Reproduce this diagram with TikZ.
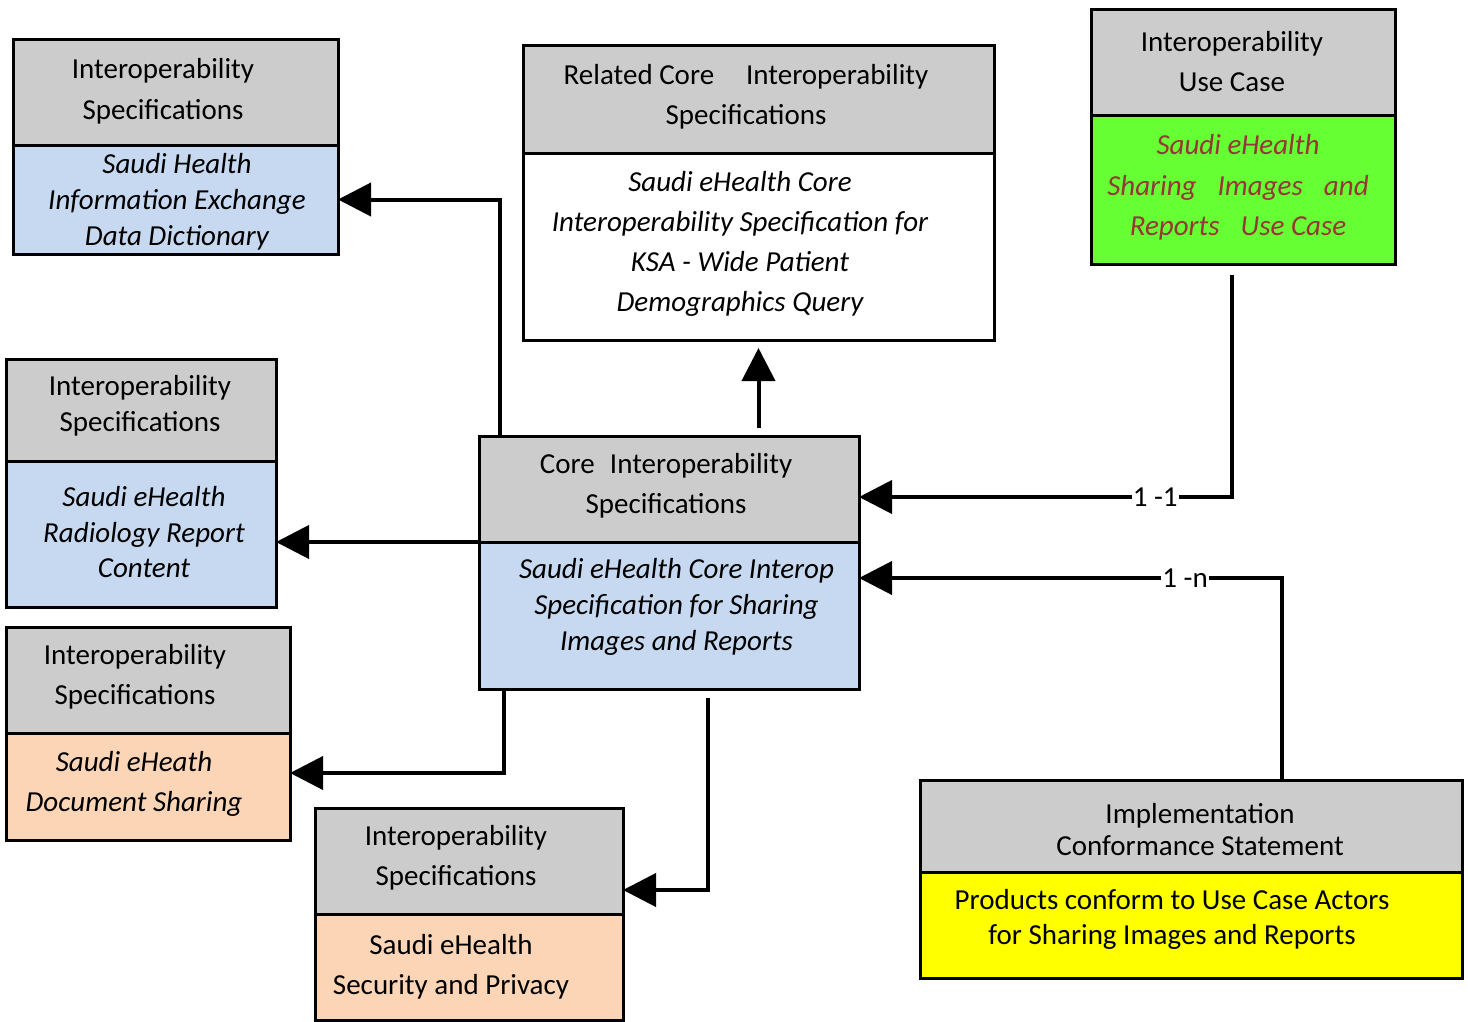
\documentclass[tikz,border=0pt]{standalone}
\usepackage{fontspec}
\setmainfont{Carlito}
\usetikzlibrary{calc,arrows.meta}
\definecolor{hdgray}{HTML}{CCCCCC}
\definecolor{bodyblue}{HTML}{C6D9F1}
\definecolor{peach}{HTML}{FBD5B5}
\definecolor{brightgreen}{HTML}{66FF33}
\definecolor{ylw}{HTML}{FFFF00}
\definecolor{darkred}{HTML}{953735}
\begin{document}
\begin{tikzpicture}[x=1pt,y=-1pt,
  box/.style={draw=black,line width=3pt,inner sep=0pt,outer sep=0pt},
  hd/.style={box,fill=hdgray},
  tx/.style={align=center,inner sep=0pt,yshift=-2pt,font=\fontsize{29}{#1}\selectfont},
  itx/.style={align=center,inner sep=0pt,yshift=-2pt,font=\fontsize{29}{#1}\selectfont\itshape},
  conn/.style={line width=4pt,-{Triangle[length=33pt,width=33pt]}},
  lab/.style={fill=white,inner sep=1pt,font=\fontsize{29}{34}\selectfont}]
\useasboundingbox (0,0) rectangle (1468,1021);
% Box A
\node[hd,minimum width=325pt,minimum height=106pt] (aH) at (175.5,92) {};
\node[box,fill=bodyblue,minimum width=325pt,minimum height=109pt] (aB) at (175.5,199.5) {};
\node[tx=41] (aHt) at (163,89.5) {Interoperability\\Specifications};
\node[itx=36] (aBt) at (177,200) {Saudi Health\\Information Exchange\\Data Dictionary};
% Box B
\node[hd,minimum width=471pt,minimum height=108pt] (bH) at (758.5,99) {};
\node[box,fill=white,minimum width=471pt,minimum height=187pt] (bB) at (758.5,246.5) {};
\node[tx=40] (bHt) at (746,95) {Related Core\hspace{1.1em}Interoperability\\Specifications};
\node[itx=40] (bBt) at (740,242) {Saudi eHealth Core\\Interoperability Specification for\\KSA - Wide Patient\\Demographics Query};
% Box C
\node[hd,minimum width=304pt,minimum height=106pt] (cH) at (1243,62) {};
\node[box,fill=brightgreen,minimum width=304pt,minimum height=149pt] (cB) at (1243,189.5) {};
\node[tx=40] (cHt) at (1232,60) {Interoperability\\Use Case};
\node[itx=40.5,text=darkred] (cBt) at (1238,185.5) {Saudi eHealth\\Sharing\hspace{0.5em} Images\hspace{0.5em} and\\Reports\hspace{0.5em} Use Case};
% Box D
\node[hd,minimum width=270pt,minimum height=102pt] (dH) at (141,410) {};
\node[box,fill=bodyblue,minimum width=270pt,minimum height=146pt] (dB) at (141,534) {};
\node[tx=36] (dHt) at (140,404) {Interoperability\\Specifications};
\node[itx=35.5] (dBt) at (144,530.5) {Saudi eHealth\\Radiology Report\\Content};
% Box E
\node[hd,minimum width=380pt,minimum height=106pt] (eH) at (669,489) {};
\node[box,fill=bodyblue,minimum width=380pt,minimum height=147pt] (eB) at (669,615.5) {};
\node[tx=40] (eHt) at (666,484) {Core\hspace{0.3em} Interoperability\\Specifications};
\node[itx=36] (eBt) at (676.5,605) {Saudi eHealth Core Interop\\Specification for Sharing\\Images and Reports};
% Box F
\node[hd,minimum width=284pt,minimum height=106pt] (fH) at (148,680) {};
\node[box,fill=peach,minimum width=284pt,minimum height=107pt] (fB) at (148,786.5) {};
\node[tx=40] (fHt) at (135,675) {Interoperability\\Specifications};
\node[itx=40] (fBt) at (134,782) {Saudi eHeath\\Document Sharing};
% Box G
\node[hd,minimum width=308pt,minimum height=106pt] (gH) at (469,861) {};
\node[box,fill=peach,minimum width=308pt,minimum height=106pt] (gB) at (469,967) {};
\node[tx=40] (gHt) at (456,856) {Interoperability\\Specifications};
\node[tx=40] (gBt) at (451,965) {Saudi eHealth\\Security and Privacy};
% Box H
\node[hd,minimum width=542pt,minimum height=92pt] (hH) at (1191,826) {};
\node[box,fill=ylw,minimum width=542pt,minimum height=106pt] (hB) at (1191,925) {};
\node[tx=32] (hHt) at (1200,828) {Implementation\\Conformance Statement};
\node[tx=35] (hBt) at (1172,917.5) {Products conform to Use Case Actors\\for Sharing Images and Reports};
% Connectors
\coordinate (k1) at (500,0);
\draw[conn] (k1 |- eH.north) -- (k1 |- aB.east) -- (aB.east);
\coordinate (k2) at (758.5,428);
\draw[conn] (k2) -- ($(bB.south)+(0,8)$);
\draw[conn] (eH.south west) -- (eH.south west -| dB.east);
\coordinate (k4) at (504,773);
\draw[conn] (k4 |- eB.south) -- (k4) -- (k4 -| fB.east);
\coordinate (k5s) at (708,698);
\coordinate (k5) at (708,890);
\draw[conn] (k5s) -- (k5) -- (k5 -| gH.east);
\coordinate (k6s) at (1232,275);
\coordinate (k6) at (1232,497);
\draw[conn] (k6s) -- (k6) -- node[lab,pos=0.206] (l11) {1 -1} (k6 -| eH.east);
\coordinate (k7) at (1282,578);
\draw[conn] (k7 |- hH.north) -- (k7) -- node[lab,pos=0.229] (l1n) {1 -n} (k7 -| eB.east);
\end{tikzpicture}
\end{document}
